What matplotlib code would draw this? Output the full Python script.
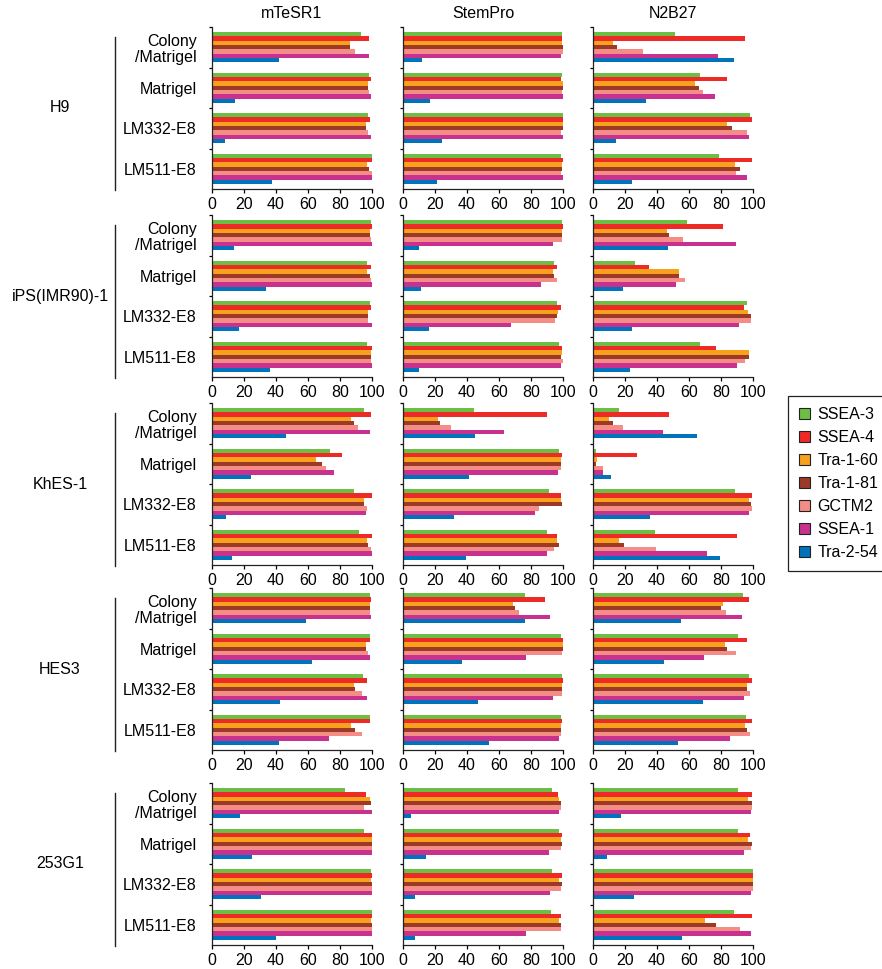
import numpy as np
import matplotlib
matplotlib.use('Agg')
import matplotlib.pyplot as plt
from matplotlib.patches import Patch

plt.rcParams['font.family'] = ['Liberation Sans', 'DejaVu Sans']

markers = ['SSEA-3', 'SSEA-4', 'Tra-1-60', 'Tra-1-81', 'GCTM2', 'SSEA-1', 'Tra-2-54']
colors = ['#6dbe45', '#ee2a26', '#f7a11c', '#9c3a27', '#f38d86', '#c9318f', '#0073bc']
media = ['mTeSR1', 'StemPro', 'N2B27']
substrates = ['Colony\n/Matrigel', 'Matrigel', 'LM332-E8', 'LM511-E8']
cell_lines = ['H9', 'iPS(IMR90)-1', 'KhES-1', 'HES3', '253G1']

# values per substrate, markers in legend order
H9_mTeSR1 = [[93, 98, 86, 86.5, 89.5, 98, 42],
             [98, 99.5, 97.5, 97.5, 98, 99.5, 14.5],
             [97.5, 99, 96, 96, 97.5, 99.5, 8],
             [100, 100, 97, 98, 100, 100, 37.5]]
H9_StemPro = [[99.5, 99.5, 99.5, 100, 100, 98.5, 12],
              [99.5, 99, 100, 100, 99.5, 100, 17],
              [100, 100, 100, 100, 99, 100, 24.5],
              [99, 100, 99.5, 99.5, 99, 100, 21.5]]
H9_N2B27 = [[51.5, 95, 12.5, 15, 31.5, 78, 88],
            [67, 84, 63.5, 66, 68.5, 76, 33],
            [98, 99.5, 84, 87, 96, 97.5, 14.5],
            [79, 99.5, 89, 92, 89.5, 96.5, 24.5]]

iPS_mTeSR1 = [[99.5, 100, 99, 99, 99.5, 100, 14],
              [97, 99.5, 97, 98.5, 99.5, 100, 33.5],
              [99, 99.5, 97.5, 97.5, 97.5, 100, 17],
              [97, 100, 99.5, 99.5, 99.5, 100, 36]]
iPS_StemPro = [[99.5, 100, 99.5, 99.5, 99.5, 93.5, 10],
               [94.5, 96.5, 94, 94.5, 96.5, 86, 11],
               [96.5, 99, 97, 96.5, 95, 67.5, 16.5],
               [97.5, 99.5, 99.5, 99, 100, 99, 10]]
iPS_N2B27 = [[58.5, 81.5, 46, 47.5, 56, 89.5, 47],
             [26.5, 35, 53.5, 53.5, 57.5, 52, 18.5],
             [96.5, 94.5, 97, 99, 98.5, 91.5, 24.5],
             [67, 77, 97.5, 97.5, 95, 90, 23]]

KhES_mTeSR1 = [[95, 99.5, 87, 88.5, 91.5, 99, 46.5],
               [74, 81.5, 65, 69, 71.5, 76.5, 24.5],
               [88.5, 100, 95, 95, 97, 96.5, 8.5],
               [92, 100, 97, 97.5, 99.5, 100, 12.5]]
KhES_StemPro = [[44.5, 90, 22, 23, 30, 63, 45],
                [97.5, 99.5, 98.5, 98.5, 99, 97, 41],
                [91, 98.5, 99, 99.5, 85, 82.5, 32],
                [90, 96, 96.5, 97.5, 94.5, 90, 39.5]]
KhES_N2B27 = [[16, 47.5, 10, 12.5, 19, 44, 65],
              [2, 27.5, 2.5, 2, 6, 6.5, 11.5],
              [88.5, 99.5, 97.5, 98.5, 99.5, 97.5, 35.5],
              [38.5, 90, 16.5, 19.5, 39.5, 71, 79.5]]

HES3_mTeSR1 = [[98.5, 99.5, 98.5, 99, 98.5, 99.5, 58.5],
               [98.5, 98.5, 96, 96.5, 97.5, 98.5, 62.5],
               [94.5, 97, 88.5, 89.5, 93.5, 97, 42.5],
               [98.5, 98.5, 87, 89.5, 94, 73, 42]]
HES3_StemPro = [[76, 89, 68.5, 70, 72.5, 92, 76],
                [98.5, 100, 100, 100, 99.5, 77, 37],
                [99.5, 100, 99.5, 99.5, 99.5, 94, 47],
                [99, 99.5, 98.5, 98.5, 98.5, 97.5, 53.5]]
HES3_N2B27 = [[94, 97.5, 81, 80, 83, 93, 55],
              [90.5, 96, 82.5, 83.5, 89.5, 69.5, 44.5],
              [97.5, 99.5, 96, 96, 98, 94.5, 68.5],
              [95.5, 99.5, 95, 96, 98, 85.5, 53]]

G253_mTeSR1 = [[83, 96.5, 98.5, 99.5, 95, 100, 17.5],
               [95, 100, 100, 100, 100, 100, 25],
               [99.5, 100, 99.5, 100, 100, 100, 30.5],
               [100, 100, 99.5, 100, 100, 100, 40]]
G253_StemPro = [[93, 97, 97.5, 98.5, 99, 97.5, 5],
                [97.5, 99.5, 98.5, 99.5, 98.5, 91, 14.5],
                [93, 99.5, 97.5, 99.5, 99, 92, 7.5],
                [92.5, 99, 97.5, 99, 98.5, 77, 7.5]]
G253_N2B27 = [[90.5, 99.5, 97, 99.5, 99.5, 98.5, 17.5],
              [90.5, 98, 97, 99.5, 98.5, 94.5, 8.5],
              [100, 100, 100, 100, 100, 98.5, 25.5],
              [88, 99.5, 70, 77, 92, 98.5, 55.5]]

panels = [[H9_mTeSR1, H9_StemPro, H9_N2B27],
          [iPS_mTeSR1, iPS_StemPro, iPS_N2B27],
          [KhES_mTeSR1, KhES_StemPro, KhES_N2B27],
          [HES3_mTeSR1, HES3_StemPro, HES3_N2B27],
          [G253_mTeSR1, G253_StemPro, G253_N2B27]]

W, H = 882, 969
fig = plt.figure(figsize=(W / 100, H / 100), dpi=100)

col_left = [212, 403, 593]
col_w = 160
row_top = [27, 215, 403, 588, 783]
row_h = 162

bar_h = 0.75 / 7
ypos = np.arange(4)

for r, row in enumerate(panels):
    for c, vals in enumerate(row):
        ax = fig.add_axes([col_left[c] / W, 1 - (row_top[r] + row_h) / H,
                           col_w / W, row_h / H])
        vals = np.array(vals)
        for k in range(7):
            ax.barh(ypos + 0.125 + bar_h * (k + 0.5), vals[:, k], height=bar_h,
                    color=colors[k], linewidth=0)
        ax.set_xlim(0, 100)
        ax.set_ylim(4, 0)
        ax.set_xticks([0, 20, 40, 60, 80, 100])
        ax.tick_params(axis='x', labelsize=11.5, length=3, width=0.9, pad=3)
        ax.set_yticks(ypos + 0.5)
        ax.set_yticks([0, 1, 2, 3], minor=True)
        ax.tick_params(axis='y', which='major', length=0, pad=11, labelsize=11.5)
        ax.tick_params(axis='y', which='minor', length=2.5, width=0.9)
        if c == 0:
            ax.set_yticklabels(substrates, ha='right', linespacing=1.1)
        else:
            ax.set_yticklabels([])
        for s in ['top', 'right']:
            ax.spines[s].set_visible(False)
        for s in ['left', 'bottom']:
            ax.spines[s].set_linewidth(0.9)
            ax.spines[s].set_color('#222222')
        if r == 0:
            ax.text(0.5, 1.0 + 14 / row_h, media[c], transform=ax.transAxes,
                    ha='center', va='center', fontsize=11.5)
        if c == 0:
            ax.plot([-0.604, -0.604], [-0.005, 0.94], transform=ax.transAxes,
                    color='#222222', lw=1.0, clip_on=False)
            ax.text(-0.95, 0.5, cell_lines[r], transform=ax.transAxes,
                    ha='center', va='center', fontsize=11.5)

handles = [Patch(facecolor=col, edgecolor='#222222', linewidth=0.8) for col in colors]
leg = fig.legend(handles, markers, loc='upper left',
                 bbox_to_anchor=(788 / W, 1 - 396 / H), fontsize=11.5,
                 handlelength=0.7, handleheight=0.7, handletextpad=0.45,
                 labelspacing=0.5, borderpad=0.7, borderaxespad=0, fancybox=False,
                 edgecolor='#222222', framealpha=1)
leg.get_frame().set_linewidth(0.9)

fig.savefig('out.png', dpi=100)
